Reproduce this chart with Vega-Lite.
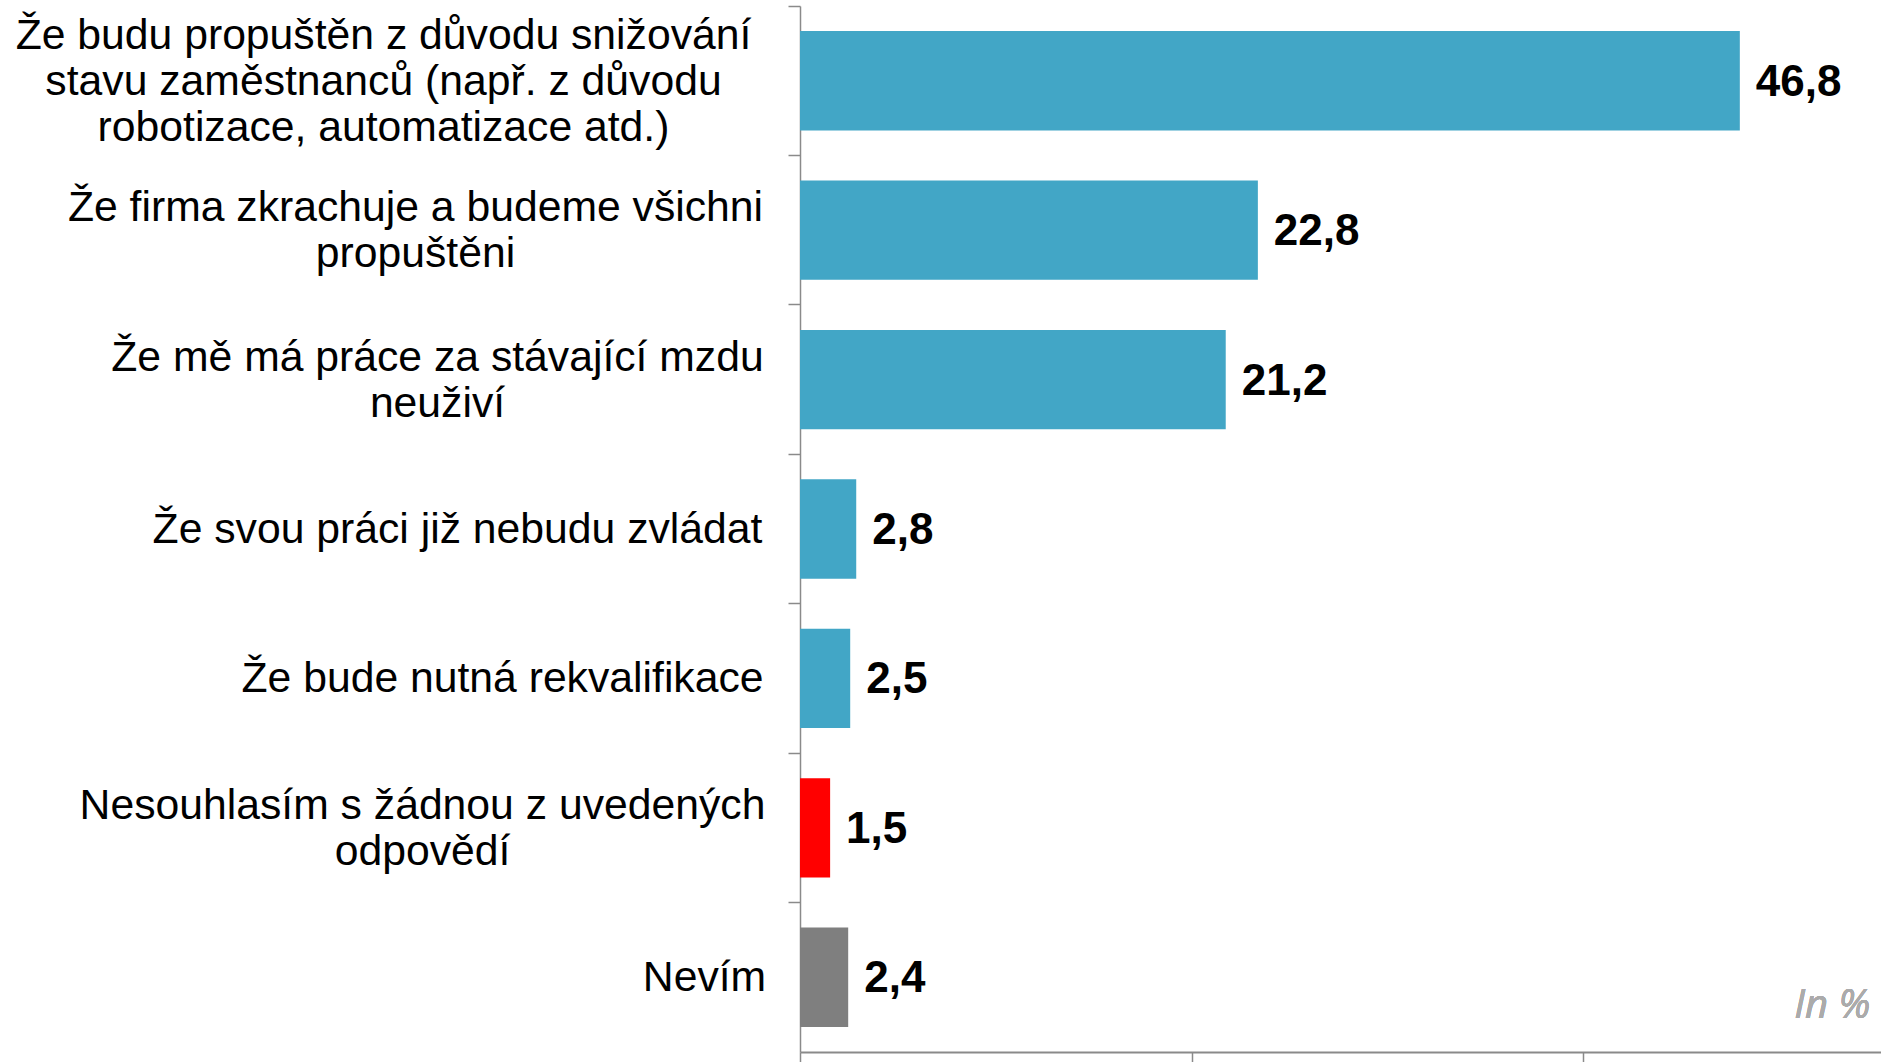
{
  "$schema": "https://vega.github.io/schema/vega-lite/v6.json",
  "autosize": {"type": "none"},
  "padding": {"left": 800, "top": 6, "right": 0, "bottom": 10},
  "width": 1081,
  "height": 1046,
  "background": "white",
  "config": {
    "view": {"stroke": null},
    "locale": {"number": {"decimal": ",", "thousands": " ", "grouping": [3], "currency": ["", " Kč"]}}
  },
  "data": {
    "values": [
      {"kategorie": "Že budu propuštěn z důvodu snižování|stavu zaměstnanců (např. z důvodu|robotizace, automatizace atd.)", "hodnota": 46.8, "skupina": "odpověď"},
      {"kategorie": "Že firma zkrachuje a budeme všichni|propuštěni", "hodnota": 22.8, "skupina": "odpověď"},
      {"kategorie": "Že mě má práce za stávající mzdu|neuživí", "hodnota": 21.2, "skupina": "odpověď"},
      {"kategorie": "Že svou práci již nebudu zvládat", "hodnota": 2.8, "skupina": "odpověď"},
      {"kategorie": "Že bude nutná rekvalifikace", "hodnota": 2.5, "skupina": "odpověď"},
      {"kategorie": "Nesouhlasím s žádnou z uvedených|odpovědí", "hodnota": 1.5, "skupina": "nesouhlas"},
      {"kategorie": "Nevím", "hodnota": 2.4, "skupina": "nevím"}
    ]
  },
  "encoding": {
    "y": {
      "field": "kategorie",
      "type": "nominal",
      "sort": null,
      "scale": {"paddingInner": 0, "paddingOuter": 0},
      "axis": {
        "title": null,
        "bandPosition": 0,
        "domainColor": "#8a8a8a",
        "domainWidth": 1.5,
        "tickColor": "#8a8a8a",
        "tickWidth": 1.5,
        "tickSize": 12,
        "labelAlign": "center",
        "labelBaseline": "middle",
        "labelFont": "Liberation Sans",
        "labelFontSize": 42.7,
        "labelColor": "#000000",
        "labelLimit": 2000,
        "labelLineHeight": 46,
        "labelExpr": "split(datum.label, '|')",
        "labelPadding": {
          "condition": [
            {"test": "indexof(datum.value,'snižování') >= 0", "value": 405},
            {"test": "indexof(datum.value,'zkrachuje') >= 0", "value": 373},
            {"test": "indexof(datum.value,'neuživí') >= 0", "value": 351},
            {"test": "indexof(datum.value,'zvládat') >= 0", "value": 331},
            {"test": "indexof(datum.value,'rekvalifikace') >= 0", "value": 286},
            {"test": "indexof(datum.value,'Nesouhlasím') >= 0", "value": 366}
          ],
          "value": 84
        },
        "labelOffset": {
          "condition": [
            {"test": "indexof(datum.value,'snižování') >= 0", "value": -45},
            {"test": "indexof(datum.value,'|') >= 0", "value": -22}
          ],
          "value": 1
        }
      }
    }
  },
  "layer": [
    {
      "mark": {"type": "bar", "height": {"band": 0.665}},
      "encoding": {
        "x": {
          "field": "hodnota",
          "type": "quantitative",
          "scale": {"domain": [0, 53.83], "nice": false, "zero": true},
          "axis": {
            "title": null,
            "values": [0, 19.5, 39],
            "labels": false,
            "grid": false,
            "domainColor": "#8a8a8a",
            "domainWidth": 2,
            "tickColor": "#8a8a8a",
            "tickWidth": 1.5,
            "tickSize": 11
          }
        },
        "color": {
          "field": "skupina",
          "type": "nominal",
          "scale": {"domain": ["odpověď", "nesouhlas", "nevím"], "range": ["#42A6C6", "#FF0000", "#7F7F7F"]},
          "legend": null
        }
      }
    },
    {
      "mark": {"type": "text", "align": "left", "baseline": "middle", "dx": 16, "dy": 2, "font": "Liberation Sans", "fontSize": 44, "fontWeight": "bold", "color": "#000000"},
      "encoding": {
        "x": {"field": "hodnota", "type": "quantitative"},
        "text": {"field": "hodnota", "type": "quantitative", "format": ".1f"}
      }
    },
    {
      "mark": {"type": "text", "align": "right", "baseline": "alphabetic", "dy": 41, "font": "Open Sans", "fontSize": 40, "fontStyle": "italic", "color": "#ABABAB"},
      "encoding": {
        "x": {"datum": 53.3},
        "y": {"datum": "Nevím"},
        "text": {"value": "In %"}
      }
    }
  ]
}
